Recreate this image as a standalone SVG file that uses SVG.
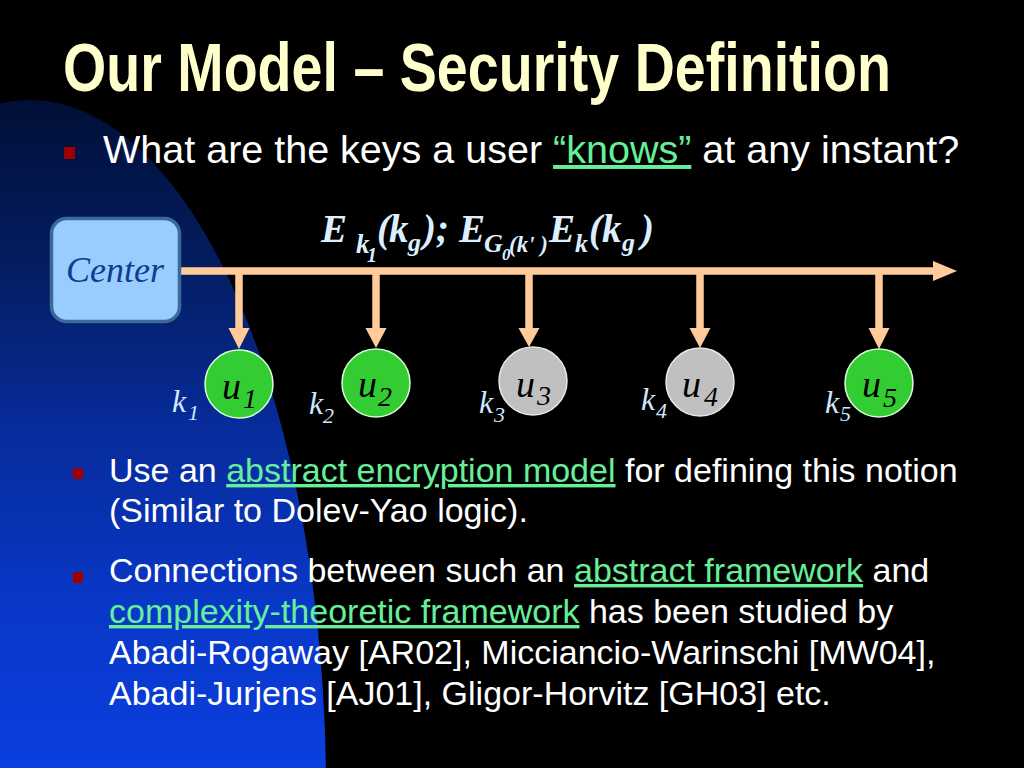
<svg xmlns="http://www.w3.org/2000/svg" width="1024" height="768" viewBox="0 0 1024 768">
  <defs>
    <linearGradient id="blueGrad" gradientUnits="userSpaceOnUse" x1="0" y1="100" x2="0" y2="768">
      <stop offset="0" stop-color="#010f36"/>
      <stop offset="0.25" stop-color="#041d62"/>
      <stop offset="0.5" stop-color="#072c9c"/>
      <stop offset="0.75" stop-color="#0937c6"/>
      <stop offset="1" stop-color="#0a3fe0"/>
    </linearGradient>
    <style>
      .title { font-family: "Liberation Sans Narrow", "Liberation Sans", Arial, sans-serif; font-weight: bold; font-size: 68px; fill: #ffffcc; }
      .body { font-family: "Liberation Sans", Arial, sans-serif; fill: #ffffff; }
      .link { fill: #66ee99; text-decoration: underline; }
      .bullet { fill: #9e0000; }
      .formula { font-family: "Liberation Serif", "Times New Roman", serif; font-style: italic; font-weight: bold; fill: #dcefff; }
      .math { font-family: "Liberation Serif", "Times New Roman", serif; font-style: italic; }
      .klabel { fill: #cfe7ff; }
      .ulabel { fill: #000000; }
      .arrow { stroke: #ffcc99; stroke-width: 7.5; fill: none; }
      .head { fill: #ffcc99; }
      .green { fill: #33cc33; stroke: #d8ffd8; stroke-width: 1.5; }
      .gray { fill: #c0c0c0; stroke: #e8e8e8; stroke-width: 1.5; }
    </style>
  </defs>

  <rect x="0" y="0" width="1024" height="768" fill="#000000"/>
  <ellipse cx="30" cy="790" rx="296" ry="690" fill="url(#blueGrad)"/>

  <text class="title" x="63" y="91" textLength="828" lengthAdjust="spacingAndGlyphs">Our Model – Security Definition</text>

  <rect class="bullet" x="64" y="147" width="11" height="12"/>
  <text class="body" x="103" y="163" font-size="39.5">What are the keys a user <tspan class="link">“knows”</tspan> at any instant?</text>

  <g id="formula" class="formula">
    <text font-size="39"><tspan x="321" y="242">E</tspan><tspan x="356" y="253" font-size="27">k</tspan><tspan x="367" y="262" font-size="20">1</tspan><tspan x="377" y="242">(</tspan><tspan x="389" y="242">k</tspan><tspan x="408" y="251" font-size="26">g</tspan><tspan x="423" y="242">);</tspan><tspan x="459" y="242">E</tspan><tspan x="484" y="252" font-size="26">G</tspan><tspan x="502" y="260" font-size="17">0</tspan><tspan x="509" y="252" font-size="23">(k' )</tspan><tspan x="549" y="242">E</tspan><tspan x="575" y="252" font-size="26">k</tspan><tspan x="589" y="242">(</tspan><tspan x="602" y="242">k</tspan><tspan x="622" y="251" font-size="26">g</tspan><tspan x="641" y="242">)</tspan></text>
  </g>

  <g id="connectors">
    <line class="arrow" x1="180" y1="271" x2="935" y2="271"/>
    <polygon class="head" points="933,261 957,271 933,281"/>
    <line class="arrow" x1="239" y1="271" x2="239" y2="330"/>
    <polygon class="head" points="228.5,328 249.5,328 239,349"/>
    <line class="arrow" x1="376" y1="271" x2="376" y2="330"/>
    <polygon class="head" points="365.5,328 386.5,328 376,348"/>
    <line class="arrow" x1="529" y1="271" x2="529" y2="330"/>
    <polygon class="head" points="518.5,328 539.5,328 529,347"/>
    <line class="arrow" x1="700" y1="271" x2="700" y2="330"/>
    <polygon class="head" points="689.5,328 710.5,328 700,348"/>
    <line class="arrow" x1="879" y1="271" x2="879" y2="330"/>
    <polygon class="head" points="868.5,328 889.5,328 879,349"/>
  </g>

  <g id="center">
    <rect x="51.5" y="218.5" width="128" height="103" rx="15" ry="15" fill="#99ccff" stroke="#3b6a9a" stroke-width="3.5"/>
    <text class="math" x="115" y="282" font-size="36" fill="#123c8e" text-anchor="middle">Center</text>
  </g>

  <g id="u1">
    <circle class="green" cx="239" cy="384" r="34"/>
    <text class="math ulabel"><tspan x="222" y="399" font-size="38">u</tspan><tspan x="243" y="408" font-size="28">1</tspan></text>
    <text class="math klabel"><tspan x="172" y="412" font-size="32">k</tspan><tspan x="188" y="420" font-size="22">1</tspan></text>
  </g>
  <g id="u2">
    <circle class="green" cx="376" cy="383" r="34"/>
    <text class="math ulabel"><tspan x="358" y="397" font-size="38">u</tspan><tspan x="378" y="406" font-size="28">2</tspan></text>
    <text class="math klabel"><tspan x="309" y="414" font-size="32">k</tspan><tspan x="323" y="423" font-size="22">2</tspan></text>
  </g>
  <g id="u3">
    <circle class="gray" cx="533" cy="381" r="34"/>
    <text class="math ulabel"><tspan x="516" y="397" font-size="38">u</tspan><tspan x="537" y="405" font-size="28">3</tspan></text>
    <text class="math klabel"><tspan x="479" y="413" font-size="32">k</tspan><tspan x="494" y="422" font-size="22">3</tspan></text>
  </g>
  <g id="u4">
    <circle class="gray" cx="700" cy="382" r="34"/>
    <text class="math ulabel"><tspan x="682" y="397" font-size="38">u</tspan><tspan x="704" y="406" font-size="28">4</tspan></text>
    <text class="math klabel"><tspan x="641" y="410" font-size="32">k</tspan><tspan x="656" y="418" font-size="22">4</tspan></text>
  </g>
  <g id="u5">
    <circle class="green" cx="879" cy="383" r="34"/>
    <text class="math ulabel"><tspan x="862" y="397" font-size="38">u</tspan><tspan x="883" y="407" font-size="28">5</tspan></text>
    <text class="math klabel"><tspan x="825" y="413" font-size="32">k</tspan><tspan x="840" y="421" font-size="22">5</tspan></text>
  </g>

  <rect class="bullet" x="73" y="468" width="10" height="11"/>
  <text class="body" font-size="34">
    <tspan x="109" y="482">Use an <tspan class="link">abstract encryption model</tspan> for defining this notion</tspan>
    <tspan x="109" y="522">(Similar to Dolev-Yao logic).</tspan>
  </text>

  <rect class="bullet" x="73" y="572" width="10" height="11"/>
  <text class="body" font-size="34">
    <tspan x="109" y="582">Connections between such an <tspan class="link">abstract framework</tspan> and</tspan>
    <tspan x="109" y="623"><tspan class="link">complexity-theoretic framework</tspan> has been studied by</tspan>
    <tspan x="109" y="664">Abadi-Rogaway [AR02], Micciancio-Warinschi [MW04],</tspan>
    <tspan x="109" y="705">Abadi-Jurjens [AJ01], Gligor-Horvitz [GH03] etc.</tspan>
  </text>
</svg>
